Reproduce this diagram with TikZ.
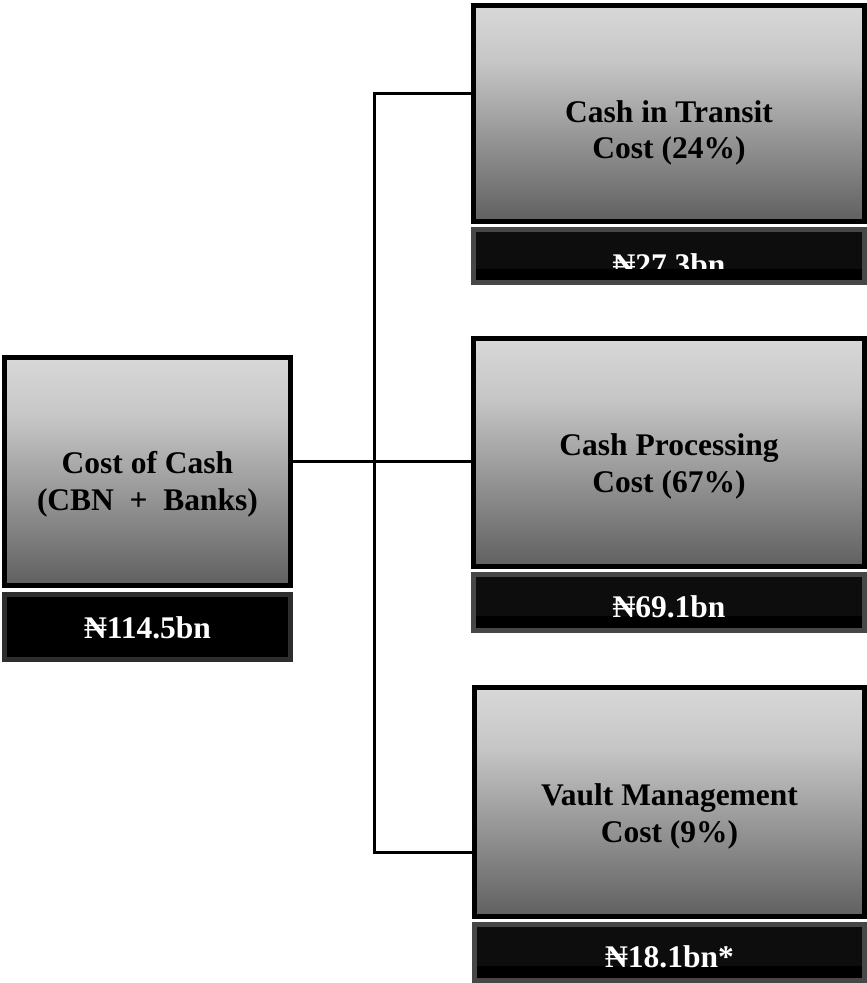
\documentclass[tikz,border=0pt]{standalone}
\usepackage{fontspec}
\setmainfont{Liberation Serif}
\definecolor{lt}{HTML}{D8D8D8}
\definecolor{md}{HTML}{C6C6C6}
\definecolor{dk}{HTML}{606060}
\definecolor{vtop}{HTML}{0D0D0D}
\definecolor{rimR}{HTML}{474747}
\definecolor{rimL}{HTML}{2E2E2E}
\pgfdeclareverticalshading{boxshade}{100bp}{color(0bp)=(dk); color(25bp)=(dk); color(62bp)=(md); color(75bp)=(lt); color(100bp)=(lt)}
\pgfdeclareverticalshading{valshade}{100bp}{color(0bp)=(black); color(38bp)=(black); color(38.5bp)=(vtop); color(100bp)=(vtop)}
\tikzset{
  mainbox/.style={draw=black, line width=5pt, shading=boxshade, rectangle, inner sep=0pt},
  valboxR/.style={draw=rimR, line width=5pt, shading=valshade, rectangle, inner sep=0pt},
  valboxL/.style={draw=rimL, line width=5pt, fill=black, rectangle, inner sep=0pt},
  conn/.style={draw=black, line width=3pt},
  lbl/.style={anchor=base, inner sep=0pt, font=\bfseries\fontsize{31.5}{36}\selectfont, text=black},
  vlbl/.style={anchor=base, inner sep=0pt, font=\bfseries\fontsize{31.5}{36}\selectfont, text=white}
}
\begin{document}
\begin{tikzpicture}[x=1pt,y=-1pt]
\useasboundingbox (0,0) rectangle (867,983);
% boxes
\node[mainbox, minimum width=391, minimum height=216] (tb) at (669,113.5) {};
\node[valboxR, minimum width=391, minimum height=53] (tv) at (669,256) {};
\node[mainbox, minimum width=391, minimum height=228] (mb) at (669,452.5) {};
\node[valboxR, minimum width=391, minimum height=56] (mv) at (669,602.5) {};
\node[mainbox, minimum width=390, minimum height=229] (bb) at (669.5,802) {};
\node[valboxR, minimum width=390, minimum height=56] (bv) at (669.5,952.5) {};
\node[mainbox, minimum width=286, minimum height=228] (lb) at (147.5,471.5) {};
\node[valboxL, minimum width=286, minimum height=65] (lv) at (147.5,627) {};
% connectors
\coordinate (jt) at (374,93);
\coordinate (jm) at (374,461);
\coordinate (jb) at (374,852);
\draw[conn] (tb.west |- jt) -- (jt) -- (jb) -- (bb.west |- jb);
\draw[conn] (lb.east |- jm) -- (mb.west |- jm);
% labels
\node[lbl] (t1a) at (669,122) {Cash in Transit};
\node[lbl] (t1b) at (669,158) {Cost (24\%)};
\node[lbl] (t2a) at (669,455) {Cash Processing};
\node[lbl] (t2b) at (669,492) {Cost (67\%)};
\node[lbl] (t3a) at (669.5,805) {Vault Management};
\node[lbl] (t3b) at (669.5,842) {Cost (9\%)};
\node[lbl] (t0a) at (147.5,473) {Cost of Cash};
\node[lbl] (t0b) at (147.5,510) {(CBN\ \ +\ \ Banks)};
% values
\begin{scope}
\clip (471,227) rectangle (867,268);
\node[vlbl] (v1) at (669,275) {₦27.3bn};
\end{scope}
\node[vlbl] (v2) at (669,617) {₦69.1bn};
\node[vlbl] (v3) at (669.5,967) {₦18.1bn*};
\node[vlbl] (v0) at (147.5,638) {₦114.5bn};
\end{tikzpicture}
\end{document}
